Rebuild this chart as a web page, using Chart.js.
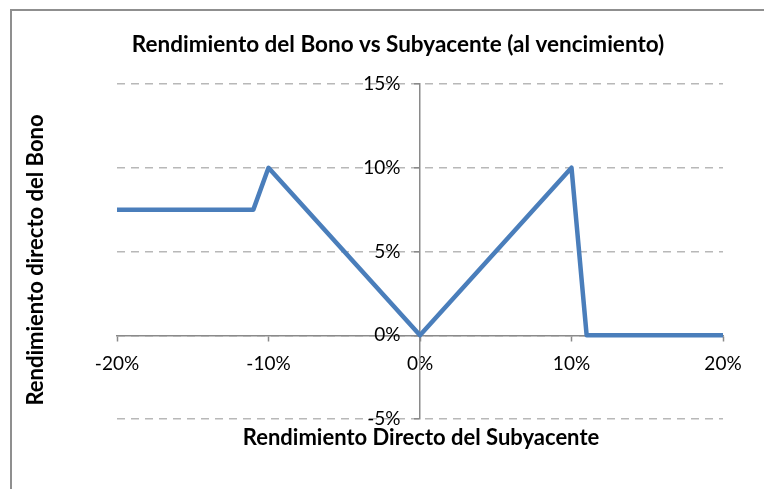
<!DOCTYPE html>
<html><head><meta charset="utf-8">
<script src="https://cdn.jsdelivr.net/npm/chart.js@4.4.1/dist/chart.umd.min.js"></script>
<style>html,body{margin:0;padding:0;background:#fff;} canvas{display:block;}</style>
</head><body>
<canvas id="c" width="764" height="489"></canvas>
<script>
const chartTitle = 'Rendimiento del Bono vs Subyacente (al vencimiento)';
const xAxisTitle = 'Rendimiento Directo del Subyacente';
const yAxisTitle = 'Rendimiento directo del Bono';

// Underlying return (%) on the x axis
const underlyingReturn = [-20,-19,-18,-17,-16,-15,-14,-13,-12,-11,
  -10,-9,-8,-7,-6,-5,-4,-3,-2,-1,
  0,1,2,3,4,5,6,7,8,9,10,
  11,12,13,14,15,16,17,18,19,20];
// Bond return (%) on the y axis
const bondReturn = [7.5,7.5,7.5,7.5,7.5,7.5,7.5,7.5,7.5,7.5,
  10,9,8,7,6,5,4,3,2,1,
  0,1,2,3,4,5,6,7,8,9,10,
  0,0,0,0,0,0,0,0,0,0];

const xTicks = [-20,-10,0,10,20];
const yTicks = [-5,0,5,10,15];

const points = underlyingReturn.map((x, i) => ({x: x, y: bondReturn[i]}));

const decor = {
  id: 'decor',
  beforeDraw(chart) {
    const ctx = chart.ctx;
    ctx.save();
    ctx.fillStyle = '#ffffff';
    ctx.fillRect(0, 0, chart.width, chart.height);
    ctx.strokeStyle = '#8f8f8f';
    ctx.lineWidth = 2;
    ctx.strokeRect(11, 10, chart.width + 40, chart.height + 40);
    ctx.restore();
  },
  afterDraw(chart) {
    const ctx = chart.ctx;
    ctx.save();
    ctx.fillStyle = '#000000';
    ctx.textAlign = 'center';
    ctx.textBaseline = 'middle';
    ctx.font = 'bold 22.5px Lato';
    ctx.fillText(chartTitle, 398, 45);
    ctx.font = 'bold 22px Lato';
    ctx.fillText(xAxisTitle, 421, 438);
    ctx.translate(36, 260);
    ctx.rotate(-Math.PI / 2);
    ctx.fillText(yAxisTitle, 0, 0);
    ctx.restore();
  }
};

new Chart(document.getElementById('c'), {
  type: 'scatter',
  data: {
    datasets: [{
      data: points,
      showLine: true,
      borderColor: '#4a7ebb',
      backgroundColor: '#4a7ebb',
      borderWidth: 4.5,
      borderJoinStyle: 'round',
      pointRadius: 0,
      pointHoverRadius: 0,
      tension: 0,
      clip: false
    }]
  },
  options: {
    responsive: false,
    animation: false,
    devicePixelRatio: 1,
    layout: { padding: { left: 117, right: 41, top: 84, bottom: 70 } },
    plugins: { legend: { display: false }, title: { display: false }, tooltip: { enabled: false } },
    events: [],
    scales: {
      x: {
        type: 'linear',
        position: { y: 0 },
        min: -20, max: 20,
        afterFit: s => { s.height = 0; },
        afterBuildTicks: s => { s.ticks = xTicks.map(v => ({value: v})); },
        ticks: { callback: v => v + '%', color: '#000', font: { family: 'Lato', size: 19 }, padding: 12, maxRotation: 0, autoSkip: false },
        grid: { drawOnChartArea: false, drawTicks: true, tickLength: 5, tickColor: '#8a8a8a', tickWidth: 1.5 },
        border: { display: true, color: '#8a8a8a', width: 1.5 }
      },
      y: {
        type: 'linear',
        position: { x: 0 },
        min: -5, max: 15,
        afterFit: s => { s.width = 0; },
        afterBuildTicks: s => { s.ticks = yTicks.map(v => ({value: v})); },
        ticks: { callback: v => v + '%    ', color: '#000', font: { family: 'Lato', size: 19 }, autoSkip: false },
        grid: { drawOnChartArea: true, color: '#b8b8b8', lineWidth: 1.5, drawTicks: true, tickLength: 5, tickColor: '#8a8a8a', tickWidth: 1.5, tickBorderDash: [] },
        border: { display: true, color: '#8a8a8a', width: 1.5, dash: [8, 6] }
      }
    }
  },
  plugins: [decor]
});
</script>
</body></html>
